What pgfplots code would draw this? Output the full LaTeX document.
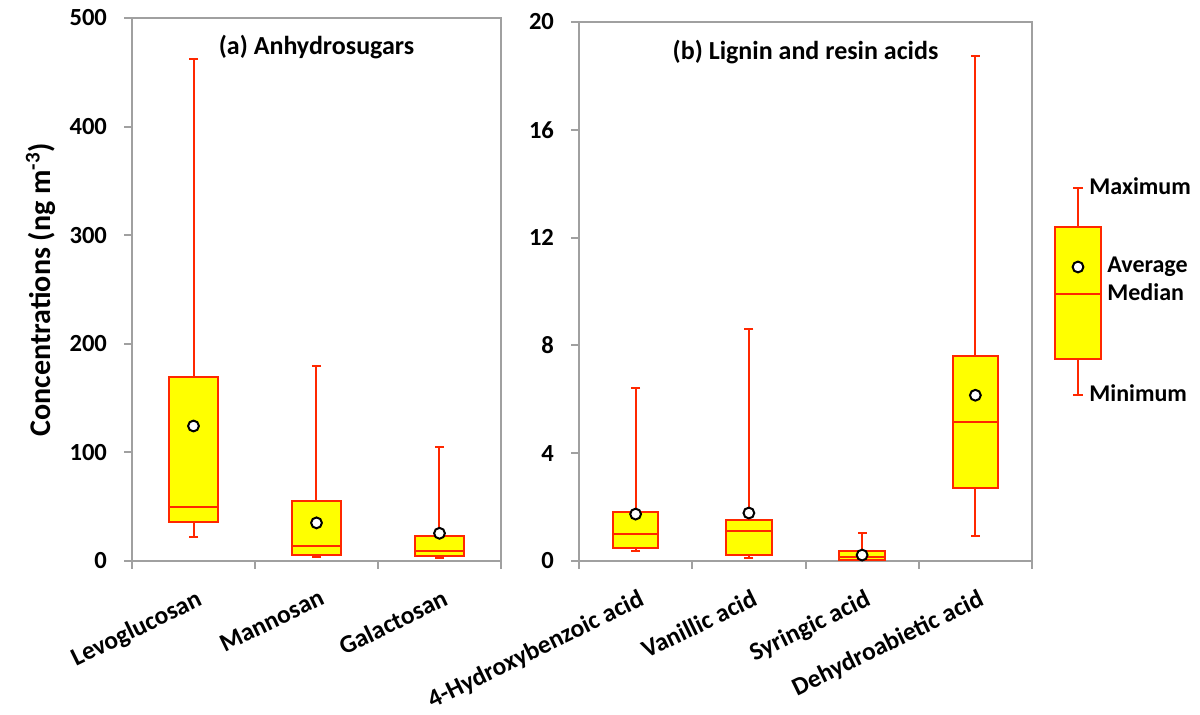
\documentclass[border=0pt]{standalone}
\usepackage{fontspec}
\setmainfont{Carlito}
\usepackage{pgfplots}
\pgfplotsset{compat=1.18}
\definecolor{boxred}{RGB}{255,40,0}
\definecolor{boxyel}{RGB}{255,255,0}
\definecolor{axgray}{RGB}{160,160,160}
\pgfplotsset{
  panel/.style={scale only axis, anchor=south west, clip=false,
    axis line style={draw=axgray, line width=1pt},
    tick style={draw=axgray, line width=1pt},
    tick align=outside, major tick length=4pt,
    xtick pos=bottom, ytick pos=left,
    /pgf/number format/assume math mode=true,
    yticklabel style={font=\fontsize{12.3}{12.3}\selectfont\bfseries, xshift=-5pt},
    xticklabel style={font=\fontsize{12.7}{12.7}\selectfont\bfseries, inner sep=0pt,
      yshift=-13.5pt, xshift=1pt, rotate=26, anchor=north east},
    extra x tick style={major tick length=0pt},
  },
  bxfill/.style={draw=boxred, fill=boxyel, line width=1pt, solid, mark=none, line cap=rect, line join=miter},
  bxline/.style={draw=boxred, line width=1pt, solid, mark=none},
  bxcap/.style={only marks, mark=-, mark size=2.3pt, mark options={draw=boxred, line width=1pt, solid}},
  meanmk/.style={only marks, mark=*, mark size=2.7pt,
    mark options={fill=white, draw=black, line width=1pt, solid}},
}
% #1 left edge, #2 centre, #3 right edge, #4 min, #5 Q1, #6 median, #7 Q3, #8 max
\newcommand{\bxp}[8]{%
  \addplot[bxline] coordinates {(#2,#7) (#2,#8)};
  \addplot[bxline] coordinates {(#2,#4) (#2,#5)};
  \addplot[bxcap] coordinates {(#2,#8) (#2,#4)};
  \addplot[bxfill] coordinates {(#1,#5) (#3,#5) (#3,#7) (#1,#7) (#1,#5)};
  \addplot[bxline] coordinates {(#1,#6) (#3,#6)};
}
\begin{document}
\begin{tikzpicture}
\useasboundingbox (0,0) rectangle (600pt,357.5pt);
% (a) Anhydrosugars
\begin{axis}[panel, at={(66pt,77pt)}, width=184.5pt, height=271.5pt,
  xmin=0.5, xmax=3.5, ymin=0, ymax=500,
  xtick={0.5,1.5,2.5,3.5}, xticklabels={,,,},
  extra x ticks={1,2,3}, extra x tick labels={Levoglucosan,Mannosan,Galactosan},
  ytick={0,100,200,300,400,500},
  ylabel={Concentrations (ng m\textsuperscript{-3})},
  ylabel style={font=\fontsize{15}{15}\selectfont\bfseries, at={(axis description cs:-0.222,0.5)}, anchor=base}]
\bxp{0.8}{1}{1.2}{22.5}{35.8}{49.4}{169}{462.5}
\bxp{1.8}{2}{2.2}{3.7}{5.8}{14}{54.8}{179.8}
\bxp{2.8}{3}{3.2}{2.7}{4.4}{8.9}{22.8}{105.2}
\addplot[meanmk] coordinates {(1,124.3) (2,35.1) (3,25.5)};
\node[anchor=base, font=\fontsize{13}{13}\selectfont\bfseries] at (rel axis cs:0.5,0.932) {(a) Anhydrosugars};
\end{axis}
% (b) Lignin and resin acids
\begin{axis}[panel, at={(289.5pt,77pt)}, width=226.5pt, height=269.5pt,
  xmin=0.5, xmax=4.5, ymin=0, ymax=20,
  xtick={0.5,1.5,2.5,3.5,4.5}, xticklabels={,,,,},
  extra x ticks={1,2,3,4}, extra x tick labels={4-Hydroxybenzoic acid,Vanillic acid,Syringic acid,Dehydroabietic acid},
  ytick={0,4,8,12,16,20}]
\bxp{0.8}{1}{1.2}{0.36}{0.50}{1.0}{1.83}{6.42}
\bxp{1.8}{2}{2.2}{0.11}{0.23}{1.12}{1.53}{8.61}
\bxp{2.8}{3}{3.2}{0.03}{0.04}{0.14}{0.37}{1.03}
\bxp{3.8}{4}{4.2}{0.91}{2.72}{5.14}{7.59}{18.73}
\addplot[meanmk] coordinates {(1,1.74) (2,1.78) (3,0.22) (4,6.15)};
\node[anchor=base, font=\fontsize{13}{13}\selectfont\bfseries] at (rel axis cs:0.5,0.930) {(b) Lignin and resin acids};
\end{axis}
% legend
\begin{axis}[scale only axis, anchor=south west, at={(520pt,147.5pt)}, width=80pt, height=125pt,
  xmin=1040, xmax=1200, ymin=295, ymax=545, hide axis, clip=false]
\bxp{1055}{1078}{1101}{320}{356}{421}{488}{527}
\addplot[meanmk] coordinates {(1078,448)};
\begin{scope}[every node/.style={anchor=base west, inner sep=0pt, font=\fontsize{12}{12}\selectfont\bfseries}]
\node at (axis cs:1089,520) {Maximum};
\node at (axis cs:1107,442) {Average};
\node at (axis cs:1107,414) {Median};
\node at (axis cs:1089,313) {Minimum};
\end{scope}
\end{axis}
\end{tikzpicture}
\end{document}
